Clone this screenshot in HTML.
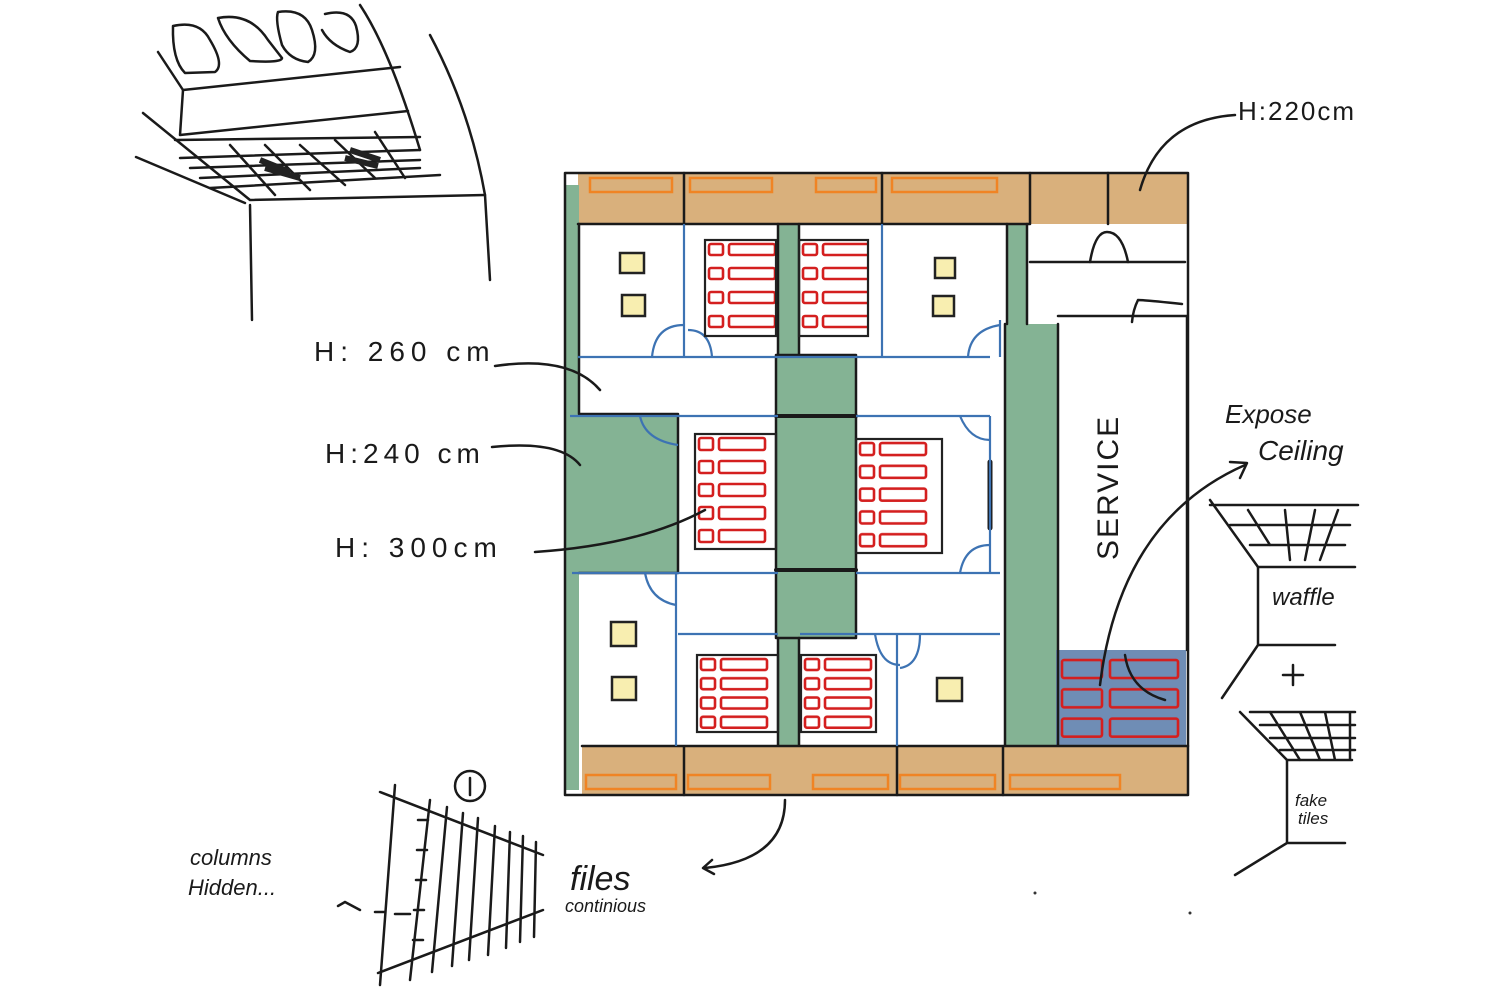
<!DOCTYPE html>
<html><head><meta charset="utf-8"><style>
html,body{margin:0;padding:0;background:#fff}
svg{display:block}
.k{stroke:#1a1a1a;stroke-width:2.5;fill:none;stroke-linecap:round;stroke-linejoin:round}
.b{stroke:#3d73b3;stroke-width:2.2;fill:none}
.hand{font-family:"Liberation Sans",sans-serif;fill:#1a1a1a;font-style:italic}
</style></head><body>
<svg width="1500" height="1000" viewBox="0 0 1500 1000" xmlns="http://www.w3.org/2000/svg">
<defs>
<pattern id="br5" x="0" y="0" width="1" height="0.2" patternUnits="objectBoundingBox">
<rect x="4" y="4" width="14" height="12" fill="none" stroke="#d41f1f" stroke-width="2.6" rx="2"/>
<rect x="24" y="4" width="46" height="12" fill="none" stroke="#d41f1f" stroke-width="2.6" rx="2"/>
</pattern>
<pattern id="br4" x="0" y="0" width="1" height="0.25" patternUnits="objectBoundingBox">
<rect x="4" y="4" width="14" height="11" fill="none" stroke="#d41f1f" stroke-width="2.6" rx="2"/>
<rect x="24" y="4" width="46" height="11" fill="none" stroke="#d41f1f" stroke-width="2.6" rx="2"/>
</pattern>
<pattern id="br3" x="0" y="0" width="1" height="0.333" patternUnits="objectBoundingBox">
<rect x="4" y="5" width="40" height="18" fill="none" stroke="#d41f1f" stroke-width="2.6" rx="2"/>
<rect x="52" y="5" width="68" height="18" fill="none" stroke="#d41f1f" stroke-width="2.6" rx="2"/>
</pattern>
</defs>

<!-- top-left sketch -->
<g class="k">
<path d="M173 26 Q200 20 210 40 Q225 65 215 72 L185 73 Q172 60 173 26Z"/>
<path d="M218 18 Q250 12 268 40 L282 58 Q282 63 250 61 Q225 40 218 18Z"/>
<path d="M278 12 Q305 8 312 30 Q320 55 308 62 Q290 60 282 45 Q275 20 278 12Z"/>
<path d="M325 14 Q350 8 356 26 Q362 48 350 52 Q330 45 322 30"/>
<path d="M158 52 L183 90 L400 67"/>
<path d="M183 90 L180 135 L408 111"/>
<path d="M360 5 Q390 50 420 150"/>
<path d="M430 35 Q470 110 485 195 L490 280"/>
<path d="M143 113 L250 200 L485 195"/>
<path d="M136 157 L245 203"/>
<path d="M250 205 L252 320"/>
<path d="M175 140 L420 137 M180 158 L420 150 M190 168 L420 160 M200 178 L420 168 M210 188 L440 175"/>
<path d="M230 145 L275 195 M265 145 L310 190 M300 145 L345 185 M335 140 L375 178 M375 132 L405 178"/>
</g>
<path d="M260 160 L290 172 M265 168 L300 178 M350 150 L380 160 M345 158 L378 166" stroke="#222" stroke-width="6"/>

<!-- floor plan -->
<g>
<rect x="578" y="173" width="452" height="51" fill="#d9b07c"/>
<rect x="1030" y="173" width="158" height="51" fill="#d9b07c"/>
<rect x="582" y="746" width="606" height="49" fill="#d9b07c"/>
<rect x="564" y="185" width="15" height="605" fill="#84b394"/>
<rect x="564" y="414" width="114" height="159" fill="#84b394"/>
<rect x="778" y="224" width="21" height="131" fill="#84b394"/>
<rect x="776" y="355" width="80" height="283" fill="#84b394"/>
<rect x="778" y="638" width="21" height="107" fill="#84b394"/>
<rect x="1007" y="224" width="20" height="100" fill="#84b394"/>
<rect x="1005" y="324" width="53" height="421" fill="#84b394"/>
<rect x="1056" y="650" width="130" height="95" fill="#6f8db5"/>
<g fill="none" stroke="#f08424" stroke-width="2.5">
<rect x="590" y="178" width="82" height="14"/><rect x="690" y="178" width="82" height="14"/>
<rect x="816" y="178" width="60" height="14"/><rect x="892" y="178" width="105" height="14"/>
<rect x="586" y="775" width="90" height="14"/><rect x="688" y="775" width="82" height="14"/>
<rect x="813" y="775" width="75" height="14"/><rect x="900" y="775" width="95" height="14"/>
<rect x="1010" y="775" width="110" height="14"/>
</g>
<g class="k">
<rect x="565" y="173" width="623" height="622"/>
<path d="M578 224 H1030 M1030 173 V224 M1108 173 V224 M582 746 H1188 M684 173 V224 M882 173 V224 M684 746 V795 M897 746 V795 M1003 746 V795"/>
<path d="M579 224 V414 H678 V573 H579"/>
<rect x="776" y="355" width="80" height="283"/>
<path d="M776 416 H856 M776 570 H856" stroke-width="4"/>
<path d="M778 224 V355 M799 224 V355 M778 638 V745 M799 638 V745"/>
<path d="M1027 224 V324 M1005 324 V745 M1058 324 V745 M1007 224 V324"/>
<path d="M1030 262 H1185 M1058 316 H1187 V650"/>
<path d="M1090 262 Q1095 232 1107 232 Q1122 232 1128 262"/>
<path d="M1182 304 Q1145 300 1138 300 Q1133 310 1132 322"/>
<path d="M990 462 V528" stroke-width="5"/>
</g>
<g class="b">
<path d="M578 357 H990 M570 416 H778 M856 416 H990 M572 573 H778 M856 573 H1000 M678 634 H778 M800 634 H1000"/>
<path d="M684 224 V357 M882 224 V357 M676 573 V746 M897 634 V746 M990 416 V573 M1000 320 V357"/>
<path d="M652 357 Q655 325 684 325 M712 357 Q710 330 688 330 M968 357 Q970 330 1000 325"/>
<path d="M640 416 Q645 440 678 445 M960 416 Q970 440 990 440 M960 573 Q965 545 990 545 M645 573 Q650 600 676 605 M875 634 Q880 665 900 665 M920 634 Q920 665 900 668"/>
</g>
<g stroke="#222" stroke-width="2.2">
<rect x="705" y="240" width="71" height="96" fill="url(#br4)"/>
<rect x="799" y="240" width="69" height="96" fill="url(#br4)"/>
<rect x="695" y="434" width="81" height="115" fill="url(#br5)"/>
<rect x="856" y="439" width="86" height="114" fill="url(#br5)"/>
<rect x="697" y="655" width="81" height="77" fill="url(#br4)"/>
<rect x="801" y="655" width="75" height="77" fill="url(#br4)"/>
</g>
<rect x="1058" y="655" width="125" height="88" fill="url(#br3)"/>
<path d="M1125 655 Q1130 690 1165 700" class="k"/>
<g fill="#f8eeb0" stroke="#222" stroke-width="2.5">
<rect x="620" y="253" width="24" height="20"/><rect x="622" y="295" width="23" height="21"/>
<rect x="935" y="258" width="20" height="20"/><rect x="933" y="296" width="21" height="20"/>
<rect x="611" y="622" width="25" height="24"/><rect x="612" y="677" width="24" height="23"/>
<rect x="937" y="678" width="25" height="23"/>
</g>
<text x="0" y="0" transform="translate(1118,560) rotate(-90)" font-family="Liberation Sans,sans-serif" font-size="30" fill="#1a1a1a" letter-spacing="2">SERVICE</text>
</g>

<g class="hand">
<text x="1238" y="120" font-size="26" font-style="normal" letter-spacing="2">H:220cm</text>
<text x="314" y="361" font-size="28" font-style="normal" letter-spacing="6">H: 260 cm</text>
<text x="325" y="463" font-size="28" font-style="normal" letter-spacing="5">H:240 cm</text>
<text x="335" y="557" font-size="28" font-style="normal" letter-spacing="6">H: 300cm</text>
<text x="1225" y="423" font-size="26">Expose</text>
<text x="1258" y="460" font-size="28">Ceiling</text>
<text x="1272" y="605" font-size="24">waffle</text>
<text x="1295" y="806" font-size="17">fake</text>
<text x="1298" y="824" font-size="17">tiles</text>
<text x="190" y="865" font-size="22">columns</text>
<text x="188" y="895" font-size="22">Hidden...</text>
<text x="570" y="890" font-size="34">files</text>
<text x="565" y="912" font-size="18">continious</text>
</g>
<g class="k">
<path d="M1140 190 Q1160 120 1235 115"/>
<path d="M495 366 Q570 355 600 390"/>
<path d="M492 447 Q560 440 580 465"/>
<path d="M535 552 Q640 545 705 510"/>
<path d="M1100 685 Q1120 520 1245 465 M1230 462 L1247 463 L1240 478"/>
<path d="M785 800 Q785 860 705 868 M712 860 L703 868 L714 874"/>
<circle cx="470" cy="786" r="15"/><path d="M470 778 V795"/>
<path d="M380 792 L543 855 M378 973 L543 910 M395 785 L380 985 M430 800 L410 980 M447 807 L432 972 M463 813 L452 966 M478 818 L469 960 M495 826 L488 955 M510 832 L506 948 M523 836 L520 942 M536 842 L534 937"/>
<path d="M418 820 H428 M417 850 H427 M416 880 H426 M414 910 H424 M413 940 H423"/>
<path d="M338 906 L345 902 M345 902 L360 910 M375 912 H385 M395 914 H410"/>
<path d="M1210 500 L1258 567 H1355 M1210 505 H1358 M1230 525 H1350 M1250 545 H1345 M1248 510 L1270 545 M1285 510 L1290 560 M1315 510 L1305 560 M1338 510 L1320 560"/>
<path d="M1258 567 V645 H1335 M1258 645 L1222 698"/>
<path d="M1293 665 V685 M1283 675 H1303"/>
<path d="M1240 712 L1287 760 H1352 M1250 712 H1355 M1260 725 H1355 M1270 738 H1355 M1280 750 H1355 M1270 712 L1300 760 M1300 712 L1320 760 M1325 712 L1335 760 M1350 712 V760"/>
<path d="M1287 760 V843 H1345 M1287 843 L1235 875"/>
</g>
<g fill="#333"><circle cx="1035" cy="893" r="1.5"/><circle cx="1190" cy="913" r="1.5"/></g>
</svg>
</body></html>
